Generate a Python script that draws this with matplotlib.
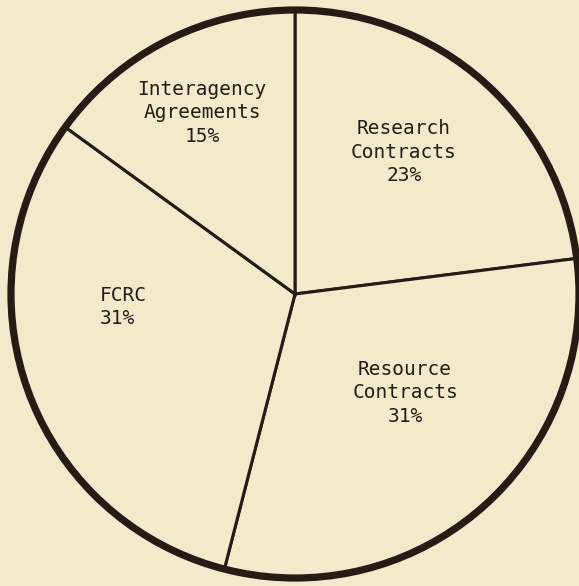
import matplotlib.pyplot as plt
from matplotlib.patches import Circle

labels = ['Research\nContracts\n23%', 'Resource\nContracts\n31%', 'FCRC\n31%', 'Interagency\nAgreements\n15%']
shares = [23, 31, 31, 15]
# label spots in image pixels (x, y from top)
label_xy = [(404, 152), (405, 393), (100, 307), (202, 113)]
label_ha = ['center', 'center', 'left', 'center']

W, H = 579, 586
bg = '#f2eacb'
ink = '#241c15'

fig = plt.figure(figsize=(W / 100, H / 100), dpi=100, facecolor=bg)
ax = fig.add_axes([0, 0, 1, 1])
ax.set_facecolor(bg)

cx, cy, r = 295, H - 294, 284
ax.pie(shares, startangle=90, counterclock=False, center=(cx, cy), radius=r,
       colors=[bg] * len(shares), frame=False,
       wedgeprops=dict(edgecolor=ink, linewidth=2.2))
ax.add_patch(Circle((cx, cy), r, fill=False, edgecolor=ink, linewidth=5.2))

for txt, (x, y), ha in zip(labels, label_xy, label_ha):
    ax.text(x, H - y, txt, ha=ha, va='center', multialignment=ha,
            family='DejaVu Sans Mono', fontsize=14, color=ink, linespacing=1.32)

ax.set_xlim(0, W)
ax.set_ylim(0, H)
ax.set_aspect('equal')
ax.axis('off')
fig.savefig('out.png', dpi=100, facecolor=bg)
